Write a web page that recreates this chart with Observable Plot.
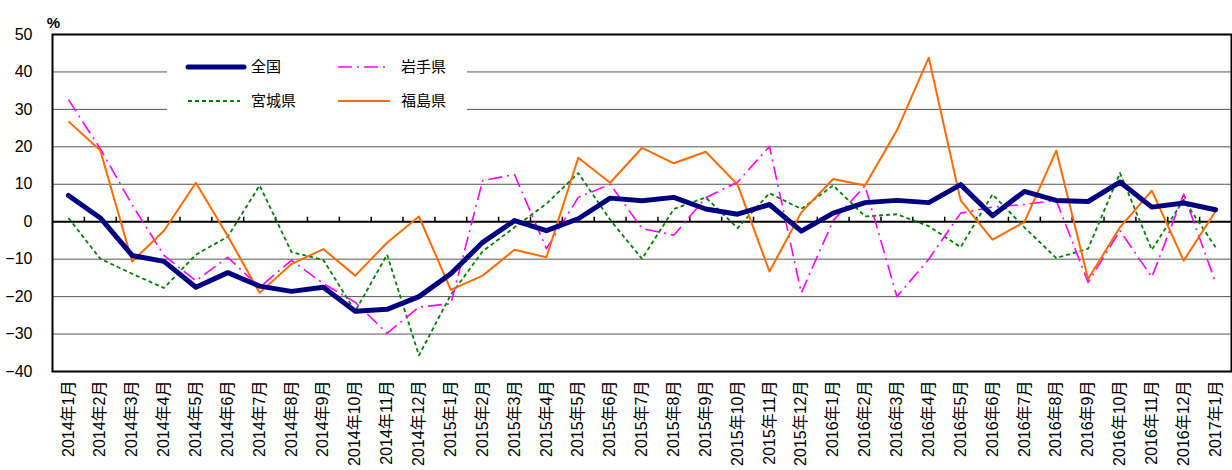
<!DOCTYPE html>
<html><head><meta charset="utf-8">
<script src="https://cdn.jsdelivr.net/npm/d3@7"></script>
<script src="https://cdn.jsdelivr.net/npm/@observablehq/plot@0.6"></script>
<style>
body{margin:0;background:#fff;}
#wrap{position:relative;width:1232px;height:470px;}
</style></head><body><div id="wrap"></div>
<script>
const months = [
  "2014年1月","2014年2月","2014年3月","2014年4月","2014年5月","2014年6月","2014年7月","2014年8月","2014年9月","2014年10月","2014年11月","2014年12月",
  "2015年1月","2015年2月","2015年3月","2015年4月","2015年5月","2015年6月","2015年7月","2015年8月","2015年9月","2015年10月","2015年11月","2015年12月",
  "2016年1月","2016年2月","2016年3月","2016年4月","2016年5月","2016年6月","2016年7月","2016年8月","2016年9月","2016年10月","2016年11月","2016年12月",
  "2017年1月"
];
const seriesNames = ["全国","岩手県","宮城県","福島県"];
const national = [7.0,1.0,-9.0,-10.6,-17.5,-13.6,-17.2,-18.6,-17.5,-23.9,-23.4,-20.0,-13.9,-5.5,0.3,-2.4,0.8,6.3,5.6,6.5,3.4,2.0,4.6,-2.5,2.3,5.1,5.7,5.1,9.9,1.6,8.1,5.7,5.4,10.6,3.9,5.0,3.2];
const iwate = [32.6,19.5,4.5,-9.0,-15.8,-9.5,-17.5,-10.3,-16.5,-21.5,-29.8,-22.8,-21.9,11.0,12.6,-7.2,6.5,10.0,-1.8,-3.6,6.4,10.6,20.1,-19.0,0.3,9.6,-20.0,-10.0,2.3,3.9,4.6,5.7,-16.2,-2.4,-14.8,7.4,-16.2];
const miyagi = [1.0,-9.9,-13.9,-17.7,-8.8,-4.0,9.7,-8.1,-10.2,-23.9,-8.8,-35.7,-19.5,-7.9,-1.5,4.8,13.0,0.5,-9.9,3.4,6.5,-1.7,7.6,3.4,9.7,1.4,2.0,-1.2,-6.8,7.3,-1.5,-9.7,-7.2,13.0,-7.5,5.9,-6.8];
const fukushima = [26.8,19.0,-10.6,-2.4,10.4,-3.8,-19.0,-11.3,-7.3,-14.4,-5.6,1.4,-18.2,-14.4,-7.5,-9.5,17.1,10.4,19.7,15.6,18.7,9.9,-13.3,2.5,11.4,9.7,24.4,43.8,5.7,-4.8,-0.1,19.0,-15.3,-1.5,8.3,-10.4,2.8];
const yTicks = [-40,-30,-20,-10,0,10,20,30,40,50];
const gridValues = [-30,-20,-10,10,20,30,40];

const seriesValues = [national, iwate, miyagi, fukushima];
const seriesStyle = [
  {stroke:"#000080", strokeWidth:5, dash:null},
  {stroke:"#ff00ff", strokeWidth:1.6, dash:"14,5,2,5"},
  {stroke:"#008000", strokeWidth:1.8, dash:"4,3"},
  {stroke:"#ff6a00", strokeWidth:2, dash:null}
];
const drawOrder = [2,1,3,0];

const W = 1232, H = 470, mL = 52, mR = 1, mT = 34, mB = 99;
const step = (W - mL - mR) / months.length;

const lineMarks = drawOrder.map(k => {
  const data = months.map((m,i) => ({month:m, value:seriesValues[k][i], series:seriesNames[k]}));
  const s = seriesStyle[k];
  return Plot.line(data, {x:"month", y:"value", stroke:s.stroke, strokeWidth:s.strokeWidth,
    strokeDasharray:s.dash, strokeLinejoin:"round", strokeLinecap: k===0 ? "round" : "butt"});
});

const chart = Plot.plot({
  width: W, height: H,
  marginLeft: mL, marginRight: mR, marginTop: mT, marginBottom: mB,
  style: {fontFamily:"'Liberation Sans', Arial, 'Noto Sans CJK JP', sans-serif", color:"black", background:"white"},
  x: {type:"point", domain: months, padding: 0.5, axis: null},
  y: {domain: [-40, 50], axis: null},
  marks: [
    Plot.ruleY(gridValues, {stroke:"#555", strokeWidth:1}),
    Plot.ruleY([0], {stroke:"black", strokeWidth:2}),
    Plot.ruleX(months.slice(1), {x:d=>d, y1:0, y2:1.2, dx:-step/2, stroke:"black", strokeWidth:1.5}),
    ...lineMarks,
    Plot.frame({stroke:"black", strokeWidth:2}),
    Plot.axisY({ticks: yTicks, tickSize:0, tickPadding:20, fontSize:16, fill:"black", label:null, tickFormat: d => d < 0 ? "−" + Math.abs(d) : String(d)}),
    Plot.axisX({tickRotate:-90, tickSize:0, tickPadding:9, fontSize:16, fill:"black", label:null}),
    Plot.text(["%"], {frameAnchor:"top-left", dx:1, dy:-17, textAnchor:"middle", fontSize:15, fontWeight:"bold", fill:"black"})
  ]
});
document.getElementById("wrap").appendChild(chart);

// legend overlay
const lg = d3.select("#wrap").append("svg")
  .attr("width", W).attr("height", H)
  .style("position","absolute").style("left","0px").style("top","0px")
  .style("font-family","'Liberation Sans', Arial, 'Noto Sans CJK JP', sans-serif");
lg.append("rect").attr("x",167).attr("y",50).attr("width",300).attr("height",68).attr("fill","white");
const legendPos = [
  {x:188, y:67}, {x:338, y:67}, {x:188, y:101}, {x:338, y:101}
];
seriesNames.forEach((name,k) => {
  const p = legendPos[k], s = seriesStyle[k];
  const len = k===0 ? 56 : 52;
  lg.append("line").attr("x1",p.x).attr("x2",p.x+len).attr("y1",p.y).attr("y2",p.y)
    .attr("stroke",s.stroke).attr("stroke-width",s.strokeWidth)
    .attr("stroke-dasharray",s.dash).attr("stroke-linecap", k===0 ? "round" : "butt");
  lg.append("text").attr("x", p.x + 63).attr("y", p.y).attr("dy","0.35em")
    .attr("font-size",15).attr("fill","black").text(name);
});
</script></body></html>
